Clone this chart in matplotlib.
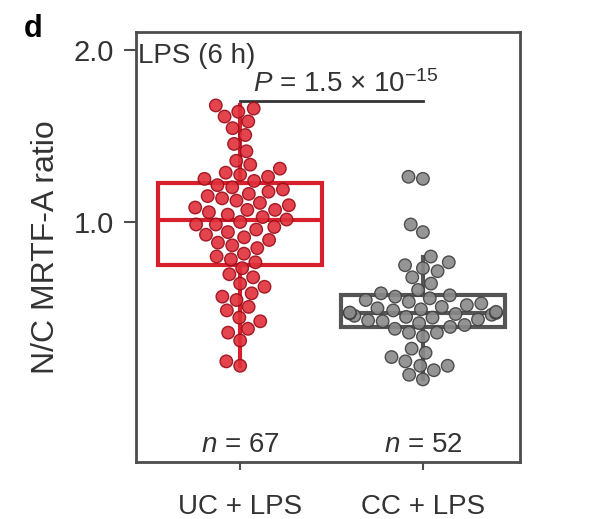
import matplotlib
matplotlib.use("Agg")
import matplotlib.pyplot as plt
import numpy as np
import pandas as pd
import seaborn as sns

# Data
groups = ["UC + LPS", "CC + LPS"]
uc_lps = [
    0.56, 0.57,
    0.62, 0.64, 0.65, 0.67, 0.68,
    0.70, 0.71, 0.73, 0.74, 0.75, 0.77, 0.78, 0.80, 0.81, 0.83,
    0.85, 0.86, 0.87, 0.88, 0.90, 0.91, 0.92, 0.93, 0.94, 0.95, 0.96, 0.97, 0.98, 0.99, 0.99, 1.00,
    1.01,
    1.02, 1.03, 1.04, 1.05, 1.05, 1.06, 1.07, 1.08, 1.09, 1.10, 1.11, 1.12, 1.13, 1.14, 1.15, 1.16,
    1.18, 1.19, 1.20, 1.21, 1.22, 1.24, 1.26, 1.28, 1.33, 1.37, 1.42, 1.46, 1.50, 1.53, 1.56, 1.58, 1.60,
]
cc_lps = [
    0.53, 0.54, 0.55, 0.56, 0.56, 0.57, 0.58, 0.59, 0.60,
    0.63, 0.64, 0.64, 0.65,
    0.655, 0.66, 0.665, 0.67, 0.672, 0.675, 0.68, 0.682, 0.685, 0.688, 0.69, 0.692, 0.693,
    0.694, 0.696, 0.70, 0.703, 0.706, 0.71, 0.715, 0.72, 0.725, 0.73, 0.735, 0.74, 0.744,
    0.75, 0.76, 0.78, 0.80, 0.82, 0.83, 0.84, 0.85, 0.87,
    0.96, 0.99, 1.19, 1.20,
]
n_labels = ["$n$ = 67", "$n$ = 52"]
p_text = "$P$ = 1.5 × 10$^{-15}$"

red = "#d8202c"
grey = "#555555"

plt.rcParams["font.family"] = ["Liberation Sans", "DejaVu Sans"]
plt.rcParams["mathtext.fontset"] = "custom"
plt.rcParams["mathtext.it"] = "Liberation Sans:italic"
plt.rcParams["mathtext.rm"] = "Liberation Sans"

fig = plt.figure(figsize=(6.03, 5.19), dpi=100)
ax = fig.add_axes([0.2255, 0.110, 0.862 - 0.2255, 0.828])
ax.set_yscale("log")
ax.set_ylim(0.38, 2.15)
ax.set_xlim(-0.57, 1.53)

df = pd.DataFrame({
    "group": [groups[0]] * len(uc_lps) + [groups[1]] * len(cc_lps),
    "ratio": uc_lps + cc_lps,
})

# boxes
data = [uc_lps, cc_lps]
for i, (vals, col) in enumerate(zip(data, [red, grey])):
    ax.boxplot([vals], positions=[i], widths=0.9, showcaps=False,
               showfliers=False, manage_ticks=False, patch_artist=True,
               boxprops=dict(facecolor="none", edgecolor=col, linewidth=3),
               medianprops=dict(color=col, linewidth=3),
               whiskerprops=dict(color=col, linewidth=3),
               zorder=2)

# points
sns.swarmplot(data=df, x="group", y="ratio", hue="group", order=groups,
              palette={groups[0]: "#e0303a", groups[1]: "#8a8a8a"},
              size=9, linewidth=1, edgecolor="#444444", legend=False,
              alpha=0.9, zorder=3, ax=ax)
for coll, ec in zip(ax.collections, ["#9a0e1a", "#404040"]):
    coll.set_edgecolor(ec)

ax.set_yscale("log")
ax.set_ylim(0.38, 2.15)
ax.set_xlim(-0.57, 1.53)
ax.set_yticks([1.0, 2.0])
ax.set_yticklabels(["1.0", "2.0"])
ax.yaxis.set_minor_locator(matplotlib.ticker.NullLocator())
ax.set_xticks([0, 1])
ax.set_xticklabels(groups)
ax.set_xlabel("")
ax.set_ylabel("N/C MRTF-A ratio", fontsize=23, labelpad=9, color="#333333")
ax.tick_params(axis="y", labelsize=21, length=9, width=1.5, color="#4d4d4d",
               pad=7, labelcolor="#333333")
ax.tick_params(axis="x", labelsize=20, length=6, width=1.5, color="#4d4d4d",
               pad=17, labelcolor="#333333")
for sp in ax.spines.values():
    sp.set_color("#4d4d4d")
    sp.set_linewidth(2)
    sp.set_zorder(5)

# annotations
ax.text(0.005, 0.975, "LPS (6 h)", transform=ax.transAxes, fontsize=20,
        ha="left", va="top", color="#333333")
ax.plot([0, 1], [1.63, 1.63], color="#333333", linewidth=2)
ax.text(0.07, 1.69, p_text, fontsize=20, ha="left", va="baseline", color="#333333")
for i, lab in enumerate(n_labels):
    ax.text(i, 0.395, lab, fontsize=20, ha="center", va="baseline", color="#333333")

fig.text(0.04, 0.928, "d", fontsize=22, fontweight="bold", ha="left", va="baseline")

fig.savefig("out.png", dpi=100, facecolor="white")
